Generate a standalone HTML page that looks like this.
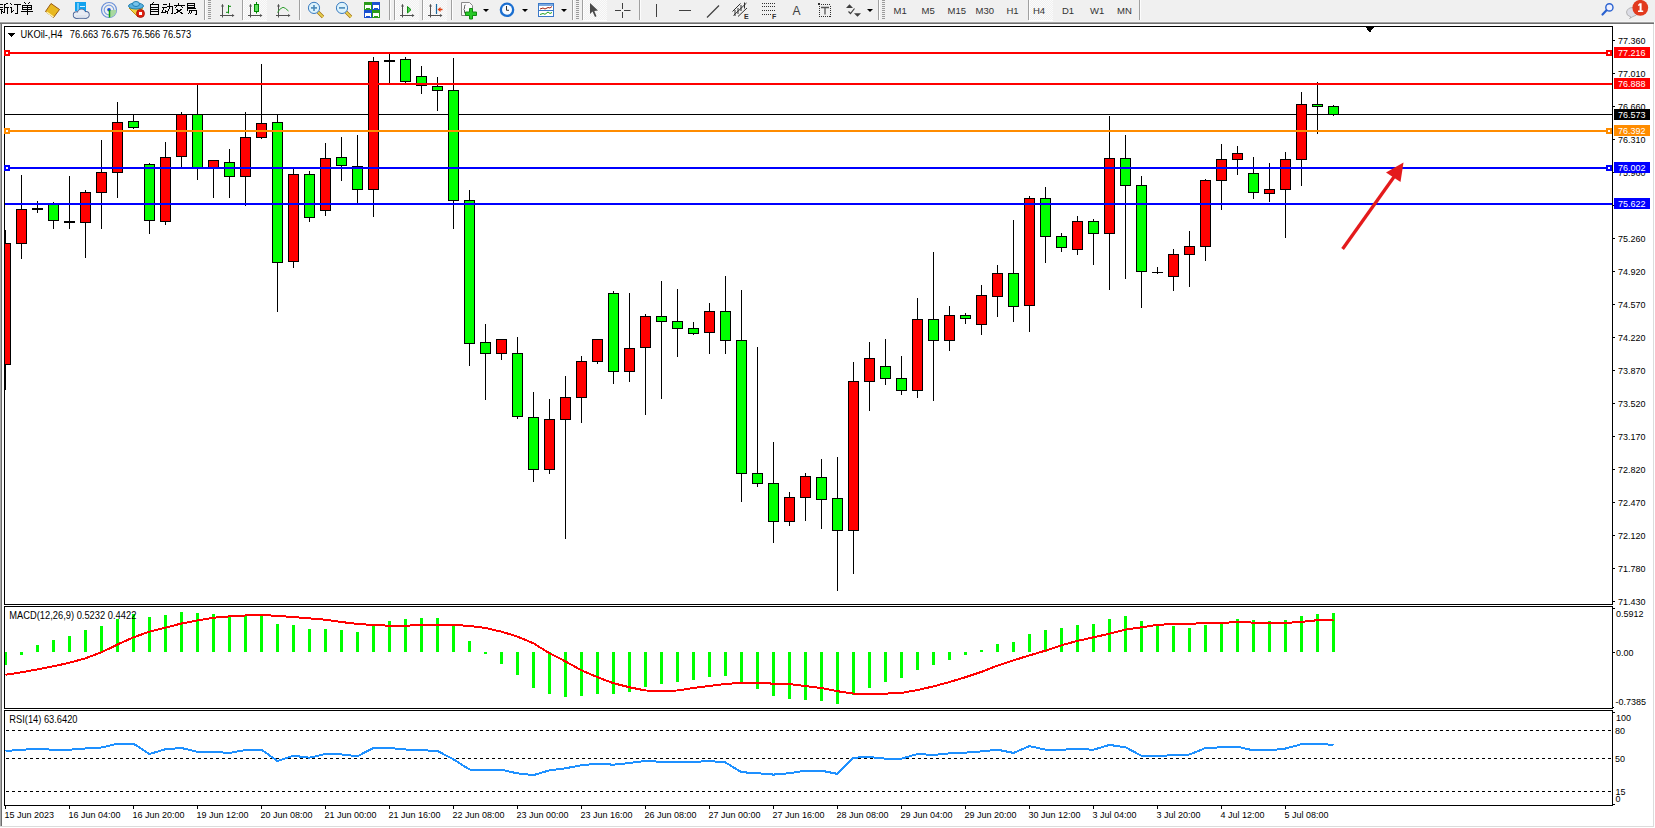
<!DOCTYPE html>
<html><head><meta charset="utf-8"><style>
html,body{margin:0;padding:0;background:#fff;width:1655px;height:828px;overflow:hidden}
svg{display:block;font-family:"Liberation Sans",sans-serif;font-size:9px}
</style></head><body>
<svg width="1655" height="828" viewBox="0 0 1655 828" shape-rendering="crispEdges">
<defs><pattern id="dith" width="2" height="2" patternUnits="userSpaceOnUse"><rect width="2" height="2" fill="#f0f0f0"/><rect width="1" height="1" fill="#fbfbfb"/><rect x="1" y="1" width="1" height="1" fill="#fbfbfb"/></pattern></defs>
<rect x="0" y="0" width="1655" height="828" fill="#fff"/>
<rect x="0" y="22" width="1" height="805" fill="#a9a9a9"/>
<rect x="1" y="24" width="1" height="803" fill="#6d6d6d"/>
<rect x="1653" y="24" width="1" height="803" fill="#dcdcdc"/>
<rect x="0" y="826" width="1654" height="1" fill="#dcdcdc"/>
<rect x="0" y="0" width="1655" height="22" fill="#f0f0f0"/>
<rect x="0" y="21" width="1654" height="1" fill="#f5f5f5"/>
<rect x="0" y="22" width="1654" height="1" fill="#a3a3a3"/>
<rect x="0" y="23" width="1654" height="1" fill="#6f6f6f"/>
<rect x="243" y="0" width="24" height="20" fill="url(#dith)"/>
<rect x="243" y="20" width="24" height="1" fill="#fff"/>
<rect x="395" y="0" width="24" height="20" fill="url(#dith)"/>
<rect x="395" y="20" width="24" height="1" fill="#fff"/>
<rect x="423" y="0" width="24" height="20" fill="url(#dith)"/>
<rect x="423" y="20" width="24" height="1" fill="#fff"/>
<rect x="583" y="0" width="24" height="20" fill="url(#dith)"/>
<rect x="583" y="20" width="24" height="1" fill="#fff"/>
<rect x="1029" y="0" width="24" height="20" fill="url(#dith)"/>
<rect x="1029" y="20" width="24" height="1" fill="#fff"/>
<rect x="204" y="0" width="1" height="20" fill="#a0a0a0"/>
<rect x="205" y="0" width="1" height="20" fill="#fdfdfd"/>
<rect x="242" y="0" width="1" height="20" fill="#a0a0a0"/>
<rect x="243" y="0" width="1" height="20" fill="#fdfdfd"/>
<rect x="299" y="0" width="1" height="20" fill="#a0a0a0"/>
<rect x="300" y="0" width="1" height="20" fill="#fdfdfd"/>
<rect x="389" y="0" width="1" height="20" fill="#a0a0a0"/>
<rect x="390" y="0" width="1" height="20" fill="#fdfdfd"/>
<rect x="394" y="0" width="1" height="20" fill="#a0a0a0"/>
<rect x="395" y="0" width="1" height="20" fill="#fdfdfd"/>
<rect x="422" y="0" width="1" height="20" fill="#a0a0a0"/>
<rect x="423" y="0" width="1" height="20" fill="#fdfdfd"/>
<rect x="451" y="0" width="1" height="20" fill="#a0a0a0"/>
<rect x="452" y="0" width="1" height="20" fill="#fdfdfd"/>
<rect x="572" y="0" width="1" height="20" fill="#a0a0a0"/>
<rect x="573" y="0" width="1" height="20" fill="#fdfdfd"/>
<rect x="582" y="0" width="1" height="20" fill="#a0a0a0"/>
<rect x="583" y="0" width="1" height="20" fill="#fdfdfd"/>
<rect x="639" y="0" width="1" height="20" fill="#a0a0a0"/>
<rect x="640" y="0" width="1" height="20" fill="#fdfdfd"/>
<rect x="878" y="0" width="1" height="20" fill="#a0a0a0"/>
<rect x="879" y="0" width="1" height="20" fill="#fdfdfd"/>
<rect x="1028" y="0" width="1" height="20" fill="#a0a0a0"/>
<rect x="1029" y="0" width="1" height="20" fill="#fdfdfd"/>
<rect x="1139" y="0" width="1" height="20" fill="#a0a0a0"/>
<rect x="1140" y="0" width="1" height="20" fill="#fdfdfd"/>
<rect x="208" y="0" width="3" height="1" fill="#9a9a9a"/>
<rect x="208" y="2" width="3" height="1" fill="#9a9a9a"/>
<rect x="208" y="4" width="3" height="1" fill="#9a9a9a"/>
<rect x="208" y="6" width="3" height="1" fill="#9a9a9a"/>
<rect x="208" y="8" width="3" height="1" fill="#9a9a9a"/>
<rect x="208" y="10" width="3" height="1" fill="#9a9a9a"/>
<rect x="208" y="12" width="3" height="1" fill="#9a9a9a"/>
<rect x="208" y="14" width="3" height="1" fill="#9a9a9a"/>
<rect x="208" y="16" width="3" height="1" fill="#9a9a9a"/>
<rect x="208" y="18" width="3" height="1" fill="#9a9a9a"/>
<rect x="576" y="0" width="3" height="1" fill="#9a9a9a"/>
<rect x="576" y="2" width="3" height="1" fill="#9a9a9a"/>
<rect x="576" y="4" width="3" height="1" fill="#9a9a9a"/>
<rect x="576" y="6" width="3" height="1" fill="#9a9a9a"/>
<rect x="576" y="8" width="3" height="1" fill="#9a9a9a"/>
<rect x="576" y="10" width="3" height="1" fill="#9a9a9a"/>
<rect x="576" y="12" width="3" height="1" fill="#9a9a9a"/>
<rect x="576" y="14" width="3" height="1" fill="#9a9a9a"/>
<rect x="576" y="16" width="3" height="1" fill="#9a9a9a"/>
<rect x="576" y="18" width="3" height="1" fill="#9a9a9a"/>
<rect x="882" y="0" width="3" height="1" fill="#9a9a9a"/>
<rect x="882" y="2" width="3" height="1" fill="#9a9a9a"/>
<rect x="882" y="4" width="3" height="1" fill="#9a9a9a"/>
<rect x="882" y="6" width="3" height="1" fill="#9a9a9a"/>
<rect x="882" y="8" width="3" height="1" fill="#9a9a9a"/>
<rect x="882" y="10" width="3" height="1" fill="#9a9a9a"/>
<rect x="882" y="12" width="3" height="1" fill="#9a9a9a"/>
<rect x="882" y="14" width="3" height="1" fill="#9a9a9a"/>
<rect x="882" y="16" width="3" height="1" fill="#9a9a9a"/>
<rect x="882" y="18" width="3" height="1" fill="#9a9a9a"/>
<g shape-rendering="auto">
<g stroke="#000" stroke-width="1" fill="none" shape-rendering="crispEdges">
<path d="M0 4.5h2.5 M0 7.5h3 M0 9.5h3 M1.5 9.5v4.5 M2.5 11.5l1 1.5 M7.5 3.2l-3 1.3 M4.5 4.5v7.5l-1 1.5 M4.5 7.5h4 M7.5 7.5v6.5"/>
<path d="M10.5 3.5l1.2 1.2 M10 7.5h1.5v5l2-2 M13.5 4.5h7.5 M17.5 4.5v9h-3"/>
<path d="M24.5 2.5l1 1.5 M29.5 2.5l-1 1.5 M22.5 5.5h9v4h-9z M22.5 7.5h9 M27 5.5v9 M21 11.5h12"/>
<path d="M153.5 2.5l-1 1.5 M150.5 4.5h8v9.5h-8z M150.5 7h8 M150.5 9.5h8 M150.5 11.8h8"/>
<path d="M162.5 4.5h4 M161.5 7.5h5.5 M164 7.5l-2 5h4 M165.5 10.5l1 2 M167 6.5h5v7h-1.5 M169.5 3v4.5l-2.5 6"/>
<path d="M178.5 2.5v2 M173.5 5.5h11 M176.5 6.5l-2 2 M181.5 6.5l2 2 M176 9l7 5 M182 9l-7.5 5"/>
<path d="M187.5 3.5h7v4h-7z M187.5 5.5h7 M186.5 8.5h9.5 M188.5 8.5l-2 3 M189 10.5h7v3.5h-1.5 M190.5 10.5l-2 3.5 M192.5 10.5l-2 3.5"/>
</g>
<path d="M51 3.5 L59.5 9.5 L53.5 17.5 L45.5 11.5 Z" fill="#e8b820" stroke="#9a5a10" stroke-width="1"/>
<path d="M46.5 12 L53.5 17" stroke="#fff3b0" stroke-width="1.5"/>
<rect x="75" y="2" width="11" height="9" fill="#12a2ee"/>
<path d="M78 3v8 M80 6.5h5" stroke="#d0f0ff" stroke-width="1"/>
<circle cx="76.5" cy="15" r="3.6999999999999997" fill="#4a6496"/>
<circle cx="81.5" cy="13.2" r="4.5" fill="#4a6496"/>
<circle cx="86" cy="14.8" r="3.6999999999999997" fill="#4a6496"/>
<rect x="75" y="14.5" width="12.5" height="4.3" rx="1.5" fill="#4a6496"/>
<circle cx="76.5" cy="15" r="2.8" fill="#e8ecf4"/>
<circle cx="81.5" cy="13.2" r="3.6" fill="#e8ecf4"/>
<circle cx="86" cy="14.8" r="2.8" fill="#e8ecf4"/>
<rect x="76" y="15" width="10.5" height="2.9" fill="#dfe4ee"/>
<circle cx="109" cy="10" r="7.5" fill="none" stroke="#6a90d8" stroke-width="1.2"/>
<circle cx="109" cy="10" r="4.8" fill="none" stroke="#7aa0e0" stroke-width="1.2"/>
<path d="M109 10 L109 17.5 A7.5 7.5 0 0 0 116.5 10 Z" fill="#a8d8a0"/>
<circle cx="109" cy="9.8" r="1.8" fill="#2050d0"/>
<path d="M109.5 10v7.5" stroke="#10a010" stroke-width="1.5"/>
<path d="M129 8 L142.5 8 L138 17 Z" fill="#f0d040" stroke="#c09010" stroke-width="1"/>
<ellipse cx="136" cy="6" rx="7.5" ry="3" fill="#58b0e0" stroke="#2080b0" stroke-width="1"/>
<ellipse cx="136" cy="4" rx="3.5" ry="2.5" fill="#78c4ec" stroke="#2080b0" stroke-width="1"/>
<circle cx="140.5" cy="13.5" r="4" fill="#e02010" stroke="#a01008" stroke-width="0.8"/>
<rect x="139" y="12" width="3" height="3" fill="#fff"/>
<path d="M222.5 4.5v13 M220 15.5h13.5" stroke="#505050" stroke-width="1" fill="none"/><path d="M221 6.5l1.5-2.5 1.5 2.5z M232 14l2.5 1.5-2.5 1.5z" fill="#505050"/>
<path d="M228.5 5v8.5 M228.5 6.3h2.5 M226 12.3h2.5" stroke="#0a8a0a" stroke-width="1" fill="none"/>
<path d="M250.5 4.5v13 M248 15.5h13.5" stroke="#505050" stroke-width="1" fill="none"/><path d="M249 6.5l1.5-2.5 1.5 2.5z M260 14l2.5 1.5-2.5 1.5z" fill="#505050"/>
<path d="M256.5 2v11.5" stroke="#008800" stroke-width="1"/>
<rect x="254.5" y="4.5" width="4" height="7" fill="#60e060" stroke="#008800" stroke-width="1"/>
<path d="M278.5 4.5v13 M276 15.5h13.5" stroke="#505050" stroke-width="1" fill="none"/><path d="M277 6.5l1.5-2.5 1.5 2.5z M288 14l2.5 1.5-2.5 1.5z" fill="#505050"/>
<path d="M277.5 12.5 Q280 8 283 7.3 Q285 7.5 288.5 11" stroke="#30a030" stroke-width="1" fill="none"/>
<path d="M318 12l5 5" stroke="#a07010" stroke-width="3.2"/>
<path d="M318 12l5 5" stroke="#e8d050" stroke-width="1.8"/>
<circle cx="314" cy="7.9" r="5.6" fill="#dcf2fc" stroke="#3a7cc0" stroke-width="1"/>
<path d="M311 7.9h6" stroke="#4a88b8" stroke-width="1.6"/>
<path d="M314 4.9v6" stroke="#4a88b8" stroke-width="1.6"/>
<path d="M346 12l5 5" stroke="#a07010" stroke-width="3.2"/>
<path d="M346 12l5 5" stroke="#e8d050" stroke-width="1.8"/>
<circle cx="342" cy="7.9" r="5.6" fill="#dcf2fc" stroke="#3a7cc0" stroke-width="1"/>
<path d="M339 7.9h6" stroke="#4a88b8" stroke-width="1.6"/>
<rect x="364" y="2" width="8" height="8" fill="#2a9a1a"/>
<rect x="365" y="5" width="6" height="3" fill="#fff"/>
<rect x="365" y="8" width="1" height="1" fill="#fff"/><rect x="370" y="8" width="1" height="1" fill="#fff"/>
<rect x="372" y="2" width="8" height="8" fill="#1a50d0"/>
<rect x="373" y="5" width="6" height="3" fill="#fff"/>
<rect x="373" y="8" width="1" height="1" fill="#fff"/><rect x="378" y="8" width="1" height="1" fill="#fff"/>
<rect x="364" y="10" width="8" height="8" fill="#1a50d0"/>
<rect x="365" y="13" width="6" height="3" fill="#fff"/>
<rect x="365" y="16" width="1" height="1" fill="#fff"/><rect x="370" y="16" width="1" height="1" fill="#fff"/>
<rect x="372" y="10" width="8" height="8" fill="#2a9a1a"/>
<rect x="373" y="13" width="6" height="3" fill="#fff"/>
<rect x="373" y="16" width="1" height="1" fill="#fff"/><rect x="378" y="16" width="1" height="1" fill="#fff"/>
<path d="M402.5 4.5v13 M400 15.5h13.5" stroke="#505050" stroke-width="1" fill="none"/><path d="M401 6.5l1.5-2.5 1.5 2.5z M412 14l2.5 1.5-2.5 1.5z" fill="#505050"/>
<path d="M407.5 6.5v6.5l3.5-3.3z" fill="#50d050" stroke="#109010" stroke-width="1"/>
<path d="M430.5 4.5v13 M428 15.5h13.5" stroke="#505050" stroke-width="1" fill="none"/><path d="M429 6.5l1.5-2.5 1.5 2.5z M440 14l2.5 1.5-2.5 1.5z" fill="#505050"/>
<path d="M436.5 4v10" stroke="#1a6aa0" stroke-width="1.2"/>
<path d="M437.5 9.5l3-2.5v1.8h2v1.4h-2v1.8z" fill="#e04010"/>
<path d="M461.5 2.5h8l3 3v10h-11z" fill="#fafafa" stroke="#888" stroke-width="1"/>
<path d="M465.5 5q-1 0-1 1.5v2l-0.8 0.8 0.8 0.8v2q0 1.5 1 1.5" stroke="#333" stroke-width="0.8" fill="none"/>
<path d="M469.5 8.5h3v3.5h4v3.5h-4v3.5h-3v-3.5h-4v-3.5h4z" fill="#28c828" stroke="#108a10" stroke-width="1"/>
<path d="M483 9h6l-3 3z" fill="#000"/>
<path d="M522 9h6l-3 3z" fill="#000"/>
<path d="M561 9h6l-3 3z" fill="#000"/>
<path d="M867 9h6l-3 3z" fill="#000"/>
<circle cx="507" cy="9.8" r="7.3" fill="#1a6ed0"/>
<circle cx="507" cy="9.8" r="5" fill="#f8fbff"/>
<path d="M506.5 6v4.3h2.5" stroke="#333" stroke-width="1" fill="none"/>
<rect x="538.5" y="3.5" width="15" height="13" fill="#fff" stroke="#3a78c8" stroke-width="1"/>
<rect x="539" y="4" width="14" height="2" fill="#7aaae0"/>
<path d="M539 10.5h14" stroke="#3a78c8" stroke-width="1"/>
<path d="M540 9l3-1 2 1 3-1.5 2 0.5 2-1.5" stroke="#a02010" stroke-width="1" fill="none"/>
<path d="M540 14.5l3-1 2 0.8 3-2.3 2 1.5 2-1" stroke="#20a020" stroke-width="1" fill="none"/>
<path d="M590 3 L590 14 L592.5 11.5 L595 17 L596.5 16.3 L594.3 11 L598 10.5 Z" fill="#4a4a4a"/>
<path d="M622.5 3v6 M622.5 12v6 M615 10.5h6 M624 10.5h6.5" stroke="#404040" stroke-width="1"/>
<rect x="656" y="4" width="1" height="13" fill="#404040"/>
<rect x="679" y="10" width="12" height="1" fill="#404040"/>
<path d="M707 17.5 L719 5.5" stroke="#404040" stroke-width="1.2" shape-rendering="auto"/>
<g stroke="#303030" stroke-width="1" shape-rendering="auto" fill="none">
<path d="M732.5 11.5 L740.5 3.5 M733.5 15.5 L746.5 3 M738 16.5 L747 8"/>
<path d="M735 10v6 M738 8v6 M741 5v6 M744.5 2.5v6"/>
</g>
<text x="744" y="19" font-size="7" font-weight="bold" fill="#303030">E</text>
<rect x="762" y="3" width="1" height="1" fill="#303030"/>
<rect x="764" y="3" width="1" height="1" fill="#303030"/>
<rect x="766" y="3" width="1" height="1" fill="#303030"/>
<rect x="768" y="3" width="1" height="1" fill="#303030"/>
<rect x="770" y="3" width="1" height="1" fill="#303030"/>
<rect x="772" y="3" width="1" height="1" fill="#303030"/>
<rect x="774" y="3" width="1" height="1" fill="#303030"/>
<rect x="762" y="6" width="1" height="1" fill="#303030"/>
<rect x="764" y="6" width="1" height="1" fill="#303030"/>
<rect x="766" y="6" width="1" height="1" fill="#303030"/>
<rect x="768" y="6" width="1" height="1" fill="#303030"/>
<rect x="770" y="6" width="1" height="1" fill="#303030"/>
<rect x="772" y="6" width="1" height="1" fill="#303030"/>
<rect x="774" y="6" width="1" height="1" fill="#303030"/>
<rect x="762" y="10" width="1" height="1" fill="#303030"/>
<rect x="764" y="10" width="1" height="1" fill="#303030"/>
<rect x="766" y="10" width="1" height="1" fill="#303030"/>
<rect x="768" y="10" width="1" height="1" fill="#303030"/>
<rect x="770" y="10" width="1" height="1" fill="#303030"/>
<rect x="772" y="10" width="1" height="1" fill="#303030"/>
<rect x="774" y="10" width="1" height="1" fill="#303030"/>
<rect x="762" y="14" width="1" height="1" fill="#303030"/>
<rect x="764" y="14" width="1" height="1" fill="#303030"/>
<rect x="766" y="14" width="1" height="1" fill="#303030"/>
<rect x="768" y="14" width="1" height="1" fill="#303030"/>
<rect x="770" y="14" width="1" height="1" fill="#303030"/>
<text x="772" y="19" font-size="7" font-weight="bold" fill="#303030">F</text>
<text x="792.5" y="15" font-size="12" fill="#404040">A</text>
<rect x="819" y="4" width="1" height="1" fill="#303030"/>
<rect x="819" y="16" width="1" height="1" fill="#303030"/>
<rect x="821" y="4" width="1" height="1" fill="#303030"/>
<rect x="821" y="16" width="1" height="1" fill="#303030"/>
<rect x="823" y="4" width="1" height="1" fill="#303030"/>
<rect x="823" y="16" width="1" height="1" fill="#303030"/>
<rect x="825" y="4" width="1" height="1" fill="#303030"/>
<rect x="825" y="16" width="1" height="1" fill="#303030"/>
<rect x="827" y="4" width="1" height="1" fill="#303030"/>
<rect x="827" y="16" width="1" height="1" fill="#303030"/>
<rect x="829" y="4" width="1" height="1" fill="#303030"/>
<rect x="829" y="16" width="1" height="1" fill="#303030"/>
<rect x="819" y="6" width="1" height="1" fill="#303030"/>
<rect x="830" y="6" width="1" height="1" fill="#303030"/>
<rect x="819" y="8" width="1" height="1" fill="#303030"/>
<rect x="830" y="8" width="1" height="1" fill="#303030"/>
<rect x="819" y="10" width="1" height="1" fill="#303030"/>
<rect x="830" y="10" width="1" height="1" fill="#303030"/>
<rect x="819" y="12" width="1" height="1" fill="#303030"/>
<rect x="830" y="12" width="1" height="1" fill="#303030"/>
<rect x="819" y="14" width="1" height="1" fill="#303030"/>
<rect x="830" y="14" width="1" height="1" fill="#303030"/>
<rect x="819" y="16" width="1" height="1" fill="#303030"/>
<rect x="830" y="16" width="1" height="1" fill="#303030"/>
<rect x="818" y="3" width="2" height="2" fill="#303030"/>
<path d="M821 7.5h8 M825 7.5v7" stroke="#555" stroke-width="1.3" fill="none"/>
<path d="M846 8 l3.5-3.8 3.5 3.8z M854 13.3 l3.5 3.5 3.5-3.5z" fill="#404040"/>
<path d="M848.5 11.5 l2 2 4-5" stroke="#404040" stroke-width="1.2" fill="none" shape-rendering="auto"/>
<text x="893.5" y="14" font-size="9.5" fill="#333">M1</text>
<text x="921.5" y="14" font-size="9.5" fill="#333">M5</text>
<text x="947.5" y="14" font-size="9.5" fill="#333">M15</text>
<text x="975.5" y="14" font-size="9.5" fill="#333">M30</text>
<text x="1006.5" y="14" font-size="9.5" fill="#333">H1</text>
<text x="1033" y="14" font-size="9.5" fill="#333">H4</text>
<text x="1062" y="14" font-size="9.5" fill="#333">D1</text>
<text x="1090" y="14" font-size="9.5" fill="#333">W1</text>
<text x="1117" y="14" font-size="9.5" fill="#333">MN</text>
<g shape-rendering="auto">
<circle cx="1609.4" cy="7.4" r="3.6" fill="#eef0ff" stroke="#2a62d0" stroke-width="1.4"/>
<path d="M1606.5 10.3 L1602.5 14.5" stroke="#2a62d0" stroke-width="2.2" stroke-linecap="round"/>
<path d="M1631 17 Q1626 15.5 1626.5 12 Q1627.5 7.5 1633 7.5 Q1638 8 1637.5 12.5 Q1637 16 1633 16.5 L1629.5 18.5 Z" fill="#dcdde6" stroke="#a8a8a8" stroke-width="0.8"/>
<circle cx="1640.3" cy="7.8" r="7.9" fill="#e23a1e"/>
<path d="M1639.6 3.2 L1641.6 3.2 L1641.6 10.6 L1643.2 10.6 L1643.2 11.9 L1638 11.9 L1638 10.6 L1639.6 10.6 L1639.6 5.4 L1638.1 6 L1638.1 4.7 Z" fill="#fff"/>
</g>
</g>
<rect x="4.5" y="26.5" width="1608" height="578" fill="#fff" stroke="#000"/>
<rect x="4.5" y="606.5" width="1608" height="102" fill="#fff" stroke="#000"/>
<rect x="4.5" y="710.5" width="1608" height="95" fill="#fff" stroke="#000"/>
<clipPath id="cm"><rect x="5" y="27" width="1607" height="577"/></clipPath>
<clipPath id="cmacd"><rect x="5" y="607" width="1607" height="101"/></clipPath>
<clipPath id="crsi"><rect x="5" y="711" width="1607" height="94"/></clipPath>
<g clip-path="url(#cm)">
<rect x="5" y="114" width="1607" height="1" fill="#000"/>
<rect x="5" y="230" width="1" height="160" fill="#000"/>
<rect x="0.5" y="243.5" width="10" height="121" fill="#ff0000" stroke="#000"/>
<rect x="21" y="175" width="1" height="84" fill="#000"/>
<rect x="16.5" y="209.5" width="10" height="34" fill="#ff0000" stroke="#000"/>
<rect x="37" y="201" width="1" height="12" fill="#000"/>
<rect x="32" y="208" width="11" height="2" fill="#000"/>
<rect x="53" y="202" width="1" height="27" fill="#000"/>
<rect x="48.5" y="204.5" width="10" height="16" fill="#00ff00" stroke="#000"/>
<rect x="69" y="176" width="1" height="53" fill="#000"/>
<rect x="64" y="221" width="11" height="2" fill="#000"/>
<rect x="85" y="190" width="1" height="68" fill="#000"/>
<rect x="80.5" y="192.5" width="10" height="30" fill="#ff0000" stroke="#000"/>
<rect x="101" y="140" width="1" height="89" fill="#000"/>
<rect x="96.5" y="172.5" width="10" height="20" fill="#ff0000" stroke="#000"/>
<rect x="117" y="102" width="1" height="96" fill="#000"/>
<rect x="112.5" y="122.5" width="10" height="50" fill="#ff0000" stroke="#000"/>
<rect x="133" y="114" width="1" height="15" fill="#000"/>
<rect x="128.5" y="121.5" width="10" height="6" fill="#00ff00" stroke="#000"/>
<rect x="149" y="163" width="1" height="71" fill="#000"/>
<rect x="144.5" y="164.5" width="10" height="56" fill="#00ff00" stroke="#000"/>
<rect x="165" y="142" width="1" height="83" fill="#000"/>
<rect x="160.5" y="157.5" width="10" height="64" fill="#ff0000" stroke="#000"/>
<rect x="181" y="112" width="1" height="55" fill="#000"/>
<rect x="176.5" y="114.5" width="10" height="42" fill="#ff0000" stroke="#000"/>
<rect x="197" y="85" width="1" height="95" fill="#000"/>
<rect x="192.5" y="114.5" width="10" height="53" fill="#00ff00" stroke="#000"/>
<rect x="213" y="160" width="1" height="38" fill="#000"/>
<rect x="208.5" y="160.5" width="10" height="7" fill="#ff0000" stroke="#000"/>
<rect x="229" y="149" width="1" height="49" fill="#000"/>
<rect x="224.5" y="162.5" width="10" height="14" fill="#00ff00" stroke="#000"/>
<rect x="245" y="112" width="1" height="94" fill="#000"/>
<rect x="240.5" y="137.5" width="10" height="39" fill="#ff0000" stroke="#000"/>
<rect x="261" y="64" width="1" height="75" fill="#000"/>
<rect x="256.5" y="123.5" width="10" height="14" fill="#ff0000" stroke="#000"/>
<rect x="277" y="114" width="1" height="198" fill="#000"/>
<rect x="272.5" y="122.5" width="10" height="140" fill="#00ff00" stroke="#000"/>
<rect x="293" y="169" width="1" height="99" fill="#000"/>
<rect x="288.5" y="174.5" width="10" height="87" fill="#ff0000" stroke="#000"/>
<rect x="309" y="171" width="1" height="51" fill="#000"/>
<rect x="304.5" y="174.5" width="10" height="43" fill="#00ff00" stroke="#000"/>
<rect x="325" y="143" width="1" height="73" fill="#000"/>
<rect x="320.5" y="158.5" width="10" height="52" fill="#ff0000" stroke="#000"/>
<rect x="341" y="137" width="1" height="44" fill="#000"/>
<rect x="336.5" y="157.5" width="10" height="8" fill="#00ff00" stroke="#000"/>
<rect x="357" y="135" width="1" height="69" fill="#000"/>
<rect x="352.5" y="166.5" width="10" height="23" fill="#00ff00" stroke="#000"/>
<rect x="373" y="57" width="1" height="160" fill="#000"/>
<rect x="368.5" y="61.5" width="10" height="128" fill="#ff0000" stroke="#000"/>
<rect x="389" y="54" width="1" height="30" fill="#000"/>
<rect x="384" y="60" width="11" height="2" fill="#000"/>
<rect x="405" y="57" width="1" height="26" fill="#000"/>
<rect x="400.5" y="59.5" width="10" height="22" fill="#00ff00" stroke="#000"/>
<rect x="421" y="66" width="1" height="28" fill="#000"/>
<rect x="416.5" y="76.5" width="10" height="9" fill="#00ff00" stroke="#000"/>
<rect x="437" y="77" width="1" height="34" fill="#000"/>
<rect x="432.5" y="86.5" width="10" height="4" fill="#00ff00" stroke="#000"/>
<rect x="453" y="58" width="1" height="171" fill="#000"/>
<rect x="448.5" y="90.5" width="10" height="110" fill="#00ff00" stroke="#000"/>
<rect x="469" y="190" width="1" height="176" fill="#000"/>
<rect x="464.5" y="200.5" width="10" height="143" fill="#00ff00" stroke="#000"/>
<rect x="485" y="324" width="1" height="76" fill="#000"/>
<rect x="480.5" y="342.5" width="10" height="11" fill="#00ff00" stroke="#000"/>
<rect x="501" y="339" width="1" height="21" fill="#000"/>
<rect x="496.5" y="339.5" width="10" height="14" fill="#ff0000" stroke="#000"/>
<rect x="517" y="337" width="1" height="82" fill="#000"/>
<rect x="512.5" y="353.5" width="10" height="63" fill="#00ff00" stroke="#000"/>
<rect x="533" y="392" width="1" height="90" fill="#000"/>
<rect x="528.5" y="417.5" width="10" height="52" fill="#00ff00" stroke="#000"/>
<rect x="549" y="399" width="1" height="75" fill="#000"/>
<rect x="544.5" y="419.5" width="10" height="50" fill="#ff0000" stroke="#000"/>
<rect x="565" y="376" width="1" height="163" fill="#000"/>
<rect x="560.5" y="397.5" width="10" height="22" fill="#ff0000" stroke="#000"/>
<rect x="581" y="356" width="1" height="67" fill="#000"/>
<rect x="576.5" y="361.5" width="10" height="36" fill="#ff0000" stroke="#000"/>
<rect x="597" y="339" width="1" height="25" fill="#000"/>
<rect x="592.5" y="339.5" width="10" height="22" fill="#ff0000" stroke="#000"/>
<rect x="613" y="291" width="1" height="93" fill="#000"/>
<rect x="608.5" y="293.5" width="10" height="78" fill="#00ff00" stroke="#000"/>
<rect x="629" y="293" width="1" height="89" fill="#000"/>
<rect x="624.5" y="348.5" width="10" height="23" fill="#ff0000" stroke="#000"/>
<rect x="645" y="314" width="1" height="101" fill="#000"/>
<rect x="640.5" y="316.5" width="10" height="31" fill="#ff0000" stroke="#000"/>
<rect x="661" y="281" width="1" height="118" fill="#000"/>
<rect x="656.5" y="316.5" width="10" height="5" fill="#00ff00" stroke="#000"/>
<rect x="677" y="289" width="1" height="68" fill="#000"/>
<rect x="672.5" y="321.5" width="10" height="7" fill="#00ff00" stroke="#000"/>
<rect x="693" y="322" width="1" height="13" fill="#000"/>
<rect x="688.5" y="328.5" width="10" height="5" fill="#00ff00" stroke="#000"/>
<rect x="709" y="303" width="1" height="51" fill="#000"/>
<rect x="704.5" y="311.5" width="10" height="21" fill="#ff0000" stroke="#000"/>
<rect x="725" y="276" width="1" height="78" fill="#000"/>
<rect x="720.5" y="311.5" width="10" height="29" fill="#00ff00" stroke="#000"/>
<rect x="741" y="290" width="1" height="212" fill="#000"/>
<rect x="736.5" y="340.5" width="10" height="133" fill="#00ff00" stroke="#000"/>
<rect x="757" y="347" width="1" height="140" fill="#000"/>
<rect x="752.5" y="473.5" width="10" height="10" fill="#00ff00" stroke="#000"/>
<rect x="773" y="442" width="1" height="101" fill="#000"/>
<rect x="768.5" y="483.5" width="10" height="38" fill="#00ff00" stroke="#000"/>
<rect x="789" y="492" width="1" height="34" fill="#000"/>
<rect x="784.5" y="497.5" width="10" height="24" fill="#ff0000" stroke="#000"/>
<rect x="805" y="473" width="1" height="48" fill="#000"/>
<rect x="800.5" y="476.5" width="10" height="21" fill="#ff0000" stroke="#000"/>
<rect x="821" y="459" width="1" height="70" fill="#000"/>
<rect x="816.5" y="477.5" width="10" height="22" fill="#00ff00" stroke="#000"/>
<rect x="837" y="457" width="1" height="134" fill="#000"/>
<rect x="832.5" y="498.5" width="10" height="32" fill="#00ff00" stroke="#000"/>
<rect x="853" y="362" width="1" height="212" fill="#000"/>
<rect x="848.5" y="381.5" width="10" height="149" fill="#ff0000" stroke="#000"/>
<rect x="869" y="342" width="1" height="69" fill="#000"/>
<rect x="864.5" y="358.5" width="10" height="23" fill="#ff0000" stroke="#000"/>
<rect x="885" y="339" width="1" height="46" fill="#000"/>
<rect x="880.5" y="366.5" width="10" height="12" fill="#00ff00" stroke="#000"/>
<rect x="901" y="356" width="1" height="39" fill="#000"/>
<rect x="896.5" y="378.5" width="10" height="12" fill="#00ff00" stroke="#000"/>
<rect x="917" y="298" width="1" height="100" fill="#000"/>
<rect x="912.5" y="319.5" width="10" height="71" fill="#ff0000" stroke="#000"/>
<rect x="933" y="252" width="1" height="149" fill="#000"/>
<rect x="928.5" y="319.5" width="10" height="21" fill="#00ff00" stroke="#000"/>
<rect x="949" y="306" width="1" height="45" fill="#000"/>
<rect x="944.5" y="315.5" width="10" height="25" fill="#ff0000" stroke="#000"/>
<rect x="965" y="313" width="1" height="11" fill="#000"/>
<rect x="960.5" y="315.5" width="10" height="3" fill="#00ff00" stroke="#000"/>
<rect x="981" y="285" width="1" height="50" fill="#000"/>
<rect x="976.5" y="295.5" width="10" height="29" fill="#ff0000" stroke="#000"/>
<rect x="997" y="265" width="1" height="52" fill="#000"/>
<rect x="992.5" y="273.5" width="10" height="23" fill="#ff0000" stroke="#000"/>
<rect x="1013" y="220" width="1" height="102" fill="#000"/>
<rect x="1008.5" y="273.5" width="10" height="33" fill="#00ff00" stroke="#000"/>
<rect x="1029" y="196" width="1" height="136" fill="#000"/>
<rect x="1024.5" y="198.5" width="10" height="107" fill="#ff0000" stroke="#000"/>
<rect x="1045" y="187" width="1" height="76" fill="#000"/>
<rect x="1040.5" y="198.5" width="10" height="38" fill="#00ff00" stroke="#000"/>
<rect x="1061" y="233" width="1" height="19" fill="#000"/>
<rect x="1056.5" y="236.5" width="10" height="11" fill="#00ff00" stroke="#000"/>
<rect x="1077" y="216" width="1" height="39" fill="#000"/>
<rect x="1072.5" y="221.5" width="10" height="28" fill="#ff0000" stroke="#000"/>
<rect x="1093" y="219" width="1" height="46" fill="#000"/>
<rect x="1088.5" y="221.5" width="10" height="12" fill="#00ff00" stroke="#000"/>
<rect x="1109" y="116" width="1" height="174" fill="#000"/>
<rect x="1104.5" y="158.5" width="10" height="75" fill="#ff0000" stroke="#000"/>
<rect x="1125" y="135" width="1" height="144" fill="#000"/>
<rect x="1120.5" y="158.5" width="10" height="27" fill="#00ff00" stroke="#000"/>
<rect x="1141" y="176" width="1" height="132" fill="#000"/>
<rect x="1136.5" y="185.5" width="10" height="86" fill="#00ff00" stroke="#000"/>
<rect x="1157" y="267" width="1" height="7" fill="#000"/>
<rect x="1152" y="272" width="11" height="1" fill="#000"/>
<rect x="1173" y="249" width="1" height="42" fill="#000"/>
<rect x="1168.5" y="254.5" width="10" height="22" fill="#ff0000" stroke="#000"/>
<rect x="1189" y="231" width="1" height="56" fill="#000"/>
<rect x="1184.5" y="246.5" width="10" height="8" fill="#ff0000" stroke="#000"/>
<rect x="1205" y="179" width="1" height="82" fill="#000"/>
<rect x="1200.5" y="180.5" width="10" height="66" fill="#ff0000" stroke="#000"/>
<rect x="1221" y="144" width="1" height="66" fill="#000"/>
<rect x="1216.5" y="159.5" width="10" height="21" fill="#ff0000" stroke="#000"/>
<rect x="1237" y="146" width="1" height="29" fill="#000"/>
<rect x="1232.5" y="153.5" width="10" height="6" fill="#ff0000" stroke="#000"/>
<rect x="1253" y="157" width="1" height="42" fill="#000"/>
<rect x="1248.5" y="173.5" width="10" height="19" fill="#00ff00" stroke="#000"/>
<rect x="1269" y="163" width="1" height="39" fill="#000"/>
<rect x="1264.5" y="189.5" width="10" height="4" fill="#ff0000" stroke="#000"/>
<rect x="1285" y="152" width="1" height="86" fill="#000"/>
<rect x="1280.5" y="159.5" width="10" height="30" fill="#ff0000" stroke="#000"/>
<rect x="1301" y="92" width="1" height="94" fill="#000"/>
<rect x="1296.5" y="104.5" width="10" height="55" fill="#ff0000" stroke="#000"/>
<rect x="1317" y="82" width="1" height="52" fill="#000"/>
<rect x="1312.5" y="104.5" width="10" height="2" fill="#00ff00" stroke="#000"/>
<rect x="1333" y="105" width="1" height="11" fill="#000"/>
<rect x="1328.5" y="106.5" width="10" height="8" fill="#00ff00" stroke="#000"/>
<rect x="5" y="52" width="1607" height="2" fill="#ff0000"/>
<rect x="5" y="83" width="1607" height="2" fill="#ff0000"/>
<rect x="5" y="130" width="1607" height="2" fill="#ff8c00"/>
<rect x="5" y="167" width="1607" height="2" fill="#0000ff"/>
<rect x="5" y="203" width="1607" height="2" fill="#0000ff"/>
</g>
<rect x="4" y="50" width="6" height="6" fill="#ff0000"/><rect x="6" y="52" width="2" height="2" fill="#fff"/>
<rect x="1606" y="50" width="6" height="6" fill="#ff0000"/><rect x="1608" y="52" width="2" height="2" fill="#fff"/>
<rect x="4" y="128" width="6" height="6" fill="#ff8c00"/><rect x="6" y="130" width="2" height="2" fill="#fff"/>
<rect x="1606" y="128" width="6" height="6" fill="#ff8c00"/><rect x="1608" y="130" width="2" height="2" fill="#fff"/>
<rect x="4" y="165" width="6" height="6" fill="#0000ff"/><rect x="6" y="167" width="2" height="2" fill="#fff"/>
<rect x="1606" y="165" width="6" height="6" fill="#0000ff"/><rect x="1608" y="167" width="2" height="2" fill="#fff"/>
<path d="M1365 26.5 L1374.5 26.5 L1369.75 32.5 Z" fill="#000"/>
<g shape-rendering="auto"><line x1="1342.6" y1="249" x2="1395" y2="175.5" stroke="#e41a1c" stroke-width="3.3"/>
<path d="M1403.5 162.5 L1386 172.5 L1400.5 182 Z" fill="#e41a1c"/></g>
<g clip-path="url(#cmacd)">
<rect x="4" y="652" width="3" height="13" fill="#00ff00"/>
<rect x="20" y="652" width="3" height="3" fill="#00ff00"/>
<rect x="36" y="645" width="3" height="7" fill="#00ff00"/>
<rect x="52" y="640" width="3" height="12" fill="#00ff00"/>
<rect x="68" y="636" width="3" height="16" fill="#00ff00"/>
<rect x="84" y="630" width="3" height="22" fill="#00ff00"/>
<rect x="100" y="626" width="3" height="26" fill="#00ff00"/>
<rect x="116" y="619" width="3" height="33" fill="#00ff00"/>
<rect x="132" y="614" width="3" height="38" fill="#00ff00"/>
<rect x="148" y="617" width="3" height="35" fill="#00ff00"/>
<rect x="164" y="615" width="3" height="37" fill="#00ff00"/>
<rect x="180" y="612" width="3" height="40" fill="#00ff00"/>
<rect x="196" y="613" width="3" height="39" fill="#00ff00"/>
<rect x="212" y="614" width="3" height="38" fill="#00ff00"/>
<rect x="228" y="617" width="3" height="35" fill="#00ff00"/>
<rect x="244" y="616" width="3" height="36" fill="#00ff00"/>
<rect x="260" y="616" width="3" height="36" fill="#00ff00"/>
<rect x="276" y="624" width="3" height="28" fill="#00ff00"/>
<rect x="292" y="625" width="3" height="27" fill="#00ff00"/>
<rect x="308" y="629" width="3" height="23" fill="#00ff00"/>
<rect x="324" y="629" width="3" height="23" fill="#00ff00"/>
<rect x="340" y="630" width="3" height="22" fill="#00ff00"/>
<rect x="356" y="632" width="3" height="20" fill="#00ff00"/>
<rect x="372" y="626" width="3" height="26" fill="#00ff00"/>
<rect x="388" y="621" width="3" height="31" fill="#00ff00"/>
<rect x="404" y="619" width="3" height="33" fill="#00ff00"/>
<rect x="420" y="618" width="3" height="34" fill="#00ff00"/>
<rect x="436" y="618" width="3" height="34" fill="#00ff00"/>
<rect x="452" y="626" width="3" height="26" fill="#00ff00"/>
<rect x="468" y="641" width="3" height="11" fill="#00ff00"/>
<rect x="484" y="652" width="3" height="2" fill="#00ff00"/>
<rect x="500" y="652" width="3" height="12" fill="#00ff00"/>
<rect x="516" y="652" width="3" height="23" fill="#00ff00"/>
<rect x="532" y="652" width="3" height="36" fill="#00ff00"/>
<rect x="548" y="652" width="3" height="42" fill="#00ff00"/>
<rect x="564" y="652" width="3" height="45" fill="#00ff00"/>
<rect x="580" y="652" width="3" height="44" fill="#00ff00"/>
<rect x="596" y="652" width="3" height="42" fill="#00ff00"/>
<rect x="612" y="652" width="3" height="42" fill="#00ff00"/>
<rect x="628" y="652" width="3" height="40" fill="#00ff00"/>
<rect x="644" y="652" width="3" height="35" fill="#00ff00"/>
<rect x="660" y="652" width="3" height="32" fill="#00ff00"/>
<rect x="676" y="652" width="3" height="30" fill="#00ff00"/>
<rect x="692" y="652" width="3" height="28" fill="#00ff00"/>
<rect x="708" y="652" width="3" height="25" fill="#00ff00"/>
<rect x="724" y="652" width="3" height="24" fill="#00ff00"/>
<rect x="740" y="652" width="3" height="31" fill="#00ff00"/>
<rect x="756" y="652" width="3" height="37" fill="#00ff00"/>
<rect x="772" y="652" width="3" height="44" fill="#00ff00"/>
<rect x="788" y="652" width="3" height="47" fill="#00ff00"/>
<rect x="804" y="652" width="3" height="48" fill="#00ff00"/>
<rect x="820" y="652" width="3" height="49" fill="#00ff00"/>
<rect x="836" y="652" width="3" height="52" fill="#00ff00"/>
<rect x="852" y="652" width="3" height="43" fill="#00ff00"/>
<rect x="868" y="652" width="3" height="36" fill="#00ff00"/>
<rect x="884" y="652" width="3" height="30" fill="#00ff00"/>
<rect x="900" y="652" width="3" height="26" fill="#00ff00"/>
<rect x="916" y="652" width="3" height="18" fill="#00ff00"/>
<rect x="932" y="652" width="3" height="13" fill="#00ff00"/>
<rect x="948" y="652" width="3" height="8" fill="#00ff00"/>
<rect x="964" y="652" width="3" height="3" fill="#00ff00"/>
<rect x="980" y="650" width="3" height="2" fill="#00ff00"/>
<rect x="996" y="644" width="3" height="8" fill="#00ff00"/>
<rect x="1012" y="642" width="3" height="10" fill="#00ff00"/>
<rect x="1028" y="634" width="3" height="18" fill="#00ff00"/>
<rect x="1044" y="630" width="3" height="22" fill="#00ff00"/>
<rect x="1060" y="628" width="3" height="24" fill="#00ff00"/>
<rect x="1076" y="625" width="3" height="27" fill="#00ff00"/>
<rect x="1092" y="624" width="3" height="28" fill="#00ff00"/>
<rect x="1108" y="619" width="3" height="33" fill="#00ff00"/>
<rect x="1124" y="616" width="3" height="36" fill="#00ff00"/>
<rect x="1140" y="621" width="3" height="31" fill="#00ff00"/>
<rect x="1156" y="624" width="3" height="28" fill="#00ff00"/>
<rect x="1172" y="626" width="3" height="26" fill="#00ff00"/>
<rect x="1188" y="628" width="3" height="24" fill="#00ff00"/>
<rect x="1204" y="625" width="3" height="27" fill="#00ff00"/>
<rect x="1220" y="623" width="3" height="29" fill="#00ff00"/>
<rect x="1236" y="619" width="3" height="33" fill="#00ff00"/>
<rect x="1252" y="620" width="3" height="32" fill="#00ff00"/>
<rect x="1268" y="621" width="3" height="31" fill="#00ff00"/>
<rect x="1284" y="620" width="3" height="32" fill="#00ff00"/>
<rect x="1300" y="616" width="3" height="36" fill="#00ff00"/>
<rect x="1316" y="614" width="3" height="38" fill="#00ff00"/>
<rect x="1332" y="613" width="3" height="39" fill="#00ff00"/>
<polyline points="5.5,674.8 21.5,672.3 37.5,669.4 53.5,666.3 69.5,662.7 85.5,658.3 101.5,652.3 117.5,644.5 133.5,637.3 149.5,631.7 165.5,627.6 181.5,623.5 197.5,620.4 213.5,617.7 229.5,616.4 245.5,615.5 261.5,614.8 277.5,616 293.5,617 309.5,618.4 325.5,619.7 341.5,622 357.5,624 373.5,625 389.5,625.7 405.5,625.7 421.5,625 437.5,624.7 453.5,624.7 469.5,626 485.5,628 501.5,631.7 517.5,636.6 533.5,643.3 549.5,653.3 565.5,661.4 581.5,670.4 597.5,677.2 613.5,683.2 629.5,687.3 645.5,690.5 661.5,690.7 677.5,690.5 693.5,688 709.5,685.9 725.5,684 741.5,682.7 757.5,682.7 773.5,683.7 789.5,684 805.5,686.1 821.5,688 837.5,691.2 853.5,693.6 869.5,693.6 885.5,693.6 901.5,692.9 917.5,690 933.5,686.4 949.5,682 965.5,677.2 981.5,671.9 997.5,665.6 1013.5,660.3 1029.5,655.4 1045.5,650.6 1061.5,645.3 1077.5,640.9 1093.5,637.3 1109.5,633.7 1125.5,629.6 1141.5,627.3 1157.5,624.9 1173.5,623.9 1189.5,623.9 1205.5,623 1221.5,623 1237.5,621.9 1253.5,622.6 1269.5,622.9 1285.5,622.9 1301.5,621.9 1317.5,620.2 1333.5,619.8" fill="none" stroke="#ff0000" stroke-width="2"/>
</g>
<g clip-path="url(#crsi)">
<line x1="6" y1="730.5" x2="1612" y2="730.5" stroke="#000" stroke-dasharray="3 3"/>
<line x1="6" y1="758.5" x2="1612" y2="758.5" stroke="#000" stroke-dasharray="3 3"/>
<line x1="6" y1="791.5" x2="1612" y2="791.5" stroke="#000" stroke-dasharray="3 3"/>
<polyline points="5.5,751 21.5,749.7 37.5,749 53.5,749.7 69.5,749.7 85.5,748.5 101.5,747.5 117.5,743.7 133.5,743.7 149.5,754 165.5,749.2 181.5,748 197.5,751.9 213.5,751.9 229.5,752.9 245.5,750 261.5,749.7 277.5,761 293.5,755.8 309.5,757.7 325.5,754 341.5,754.5 357.5,756.2 373.5,748 389.5,748 405.5,749.5 421.5,750.2 437.5,751 453.5,759.4 469.5,769.5 485.5,769.8 501.5,769.8 517.5,773.4 533.5,775.1 549.5,770.3 565.5,768.3 581.5,765.2 597.5,763.7 613.5,764.7 629.5,763 645.5,761 661.5,761.8 677.5,762 693.5,762 709.5,761 725.5,762.5 741.5,772.2 757.5,773.2 773.5,774.6 789.5,773.2 805.5,770.7 821.5,770.7 837.5,773.9 853.5,757.7 869.5,757 885.5,758.7 901.5,758.7 917.5,754 933.5,755 949.5,753.3 965.5,752.6 981.5,751.4 997.5,749.7 1013.5,752.9 1029.5,746.1 1045.5,749.7 1061.5,749.7 1077.5,749 1093.5,749.7 1109.5,744.9 1125.5,747.3 1141.5,755.8 1157.5,755.8 1173.5,755.3 1189.5,754.5 1205.5,748 1221.5,747.3 1237.5,746.8 1253.5,750.4 1269.5,750.4 1285.5,748.5 1301.5,744.2 1317.5,743.7 1333.5,744.9" fill="none" stroke="#1e90ff" stroke-width="2"/>
</g>
<rect x="1613" y="40" width="2" height="1" fill="#000"/>
<text transform="translate(1618 44) scale(1 1.1)">77.360</text>
<rect x="1613" y="73" width="2" height="1" fill="#000"/>
<text transform="translate(1618 77) scale(1 1.1)">77.010</text>
<rect x="1613" y="106" width="2" height="1" fill="#000"/>
<text transform="translate(1618 110) scale(1 1.1)">76.660</text>
<rect x="1613" y="139" width="2" height="1" fill="#000"/>
<text transform="translate(1618 143) scale(1 1.1)">76.310</text>
<rect x="1613" y="172" width="2" height="1" fill="#000"/>
<text transform="translate(1618 176) scale(1 1.1)">75.960</text>
<rect x="1613" y="205" width="2" height="1" fill="#000"/>
<text transform="translate(1618 209) scale(1 1.1)">75.610</text>
<rect x="1613" y="238" width="2" height="1" fill="#000"/>
<text transform="translate(1618 242) scale(1 1.1)">75.260</text>
<rect x="1613" y="271" width="2" height="1" fill="#000"/>
<text transform="translate(1618 275) scale(1 1.1)">74.920</text>
<rect x="1613" y="304" width="2" height="1" fill="#000"/>
<text transform="translate(1618 308) scale(1 1.1)">74.570</text>
<rect x="1613" y="337" width="2" height="1" fill="#000"/>
<text transform="translate(1618 341) scale(1 1.1)">74.220</text>
<rect x="1613" y="370" width="2" height="1" fill="#000"/>
<text transform="translate(1618 374) scale(1 1.1)">73.870</text>
<rect x="1613" y="403" width="2" height="1" fill="#000"/>
<text transform="translate(1618 407) scale(1 1.1)">73.520</text>
<rect x="1613" y="436" width="2" height="1" fill="#000"/>
<text transform="translate(1618 440) scale(1 1.1)">73.170</text>
<rect x="1613" y="469" width="2" height="1" fill="#000"/>
<text transform="translate(1618 473) scale(1 1.1)">72.820</text>
<rect x="1613" y="502" width="2" height="1" fill="#000"/>
<text transform="translate(1618 506) scale(1 1.1)">72.470</text>
<rect x="1613" y="535" width="2" height="1" fill="#000"/>
<text transform="translate(1618 539) scale(1 1.1)">72.120</text>
<rect x="1613" y="568" width="2" height="1" fill="#000"/>
<text transform="translate(1618 572) scale(1 1.1)">71.780</text>
<rect x="1613" y="601" width="2" height="1" fill="#000"/>
<text transform="translate(1618 605) scale(1 1.1)">71.430</text>
<rect x="1614" y="47" width="36" height="11" fill="#ff0000"/>
<text transform="translate(1618 56) scale(1 1.1)" fill="#fff">77.216</text>
<rect x="1614" y="78" width="36" height="11" fill="#ff0000"/>
<text transform="translate(1618 87) scale(1 1.1)" fill="#fff">76.888</text>
<rect x="1614" y="109" width="36" height="11" fill="#000"/>
<text transform="translate(1618 118) scale(1 1.1)" fill="#fff">76.573</text>
<rect x="1614" y="125" width="36" height="11" fill="#ff8c00"/>
<text transform="translate(1618 134) scale(1 1.1)" fill="#fff">76.392</text>
<rect x="1614" y="162" width="36" height="11" fill="#0000ff"/>
<text transform="translate(1618 171) scale(1 1.1)" fill="#fff">76.002</text>
<rect x="1614" y="198" width="36" height="11" fill="#0000ff"/>
<text transform="translate(1618 207) scale(1 1.1)" fill="#fff">75.622</text>
<text transform="translate(1616 617) scale(1 1.1)">0.5912</text>
<rect x="1613" y="652" width="2" height="1" fill="#000"/>
<rect x="1613" y="608" width="2" height="1" fill="#000"/>
<rect x="1613" y="707" width="1" height="1" fill="#000"/>
<rect x="1613" y="712" width="2" height="1" fill="#000"/>
<rect x="1613" y="804" width="2" height="1" fill="#000"/>
<text transform="translate(1616 655.6) scale(1 1.1)">0.00</text>
<text transform="translate(1615.5 704.7) scale(1 1.1)">-0.7385</text>
<text transform="translate(1616 720.6) scale(1 1.1)">100</text>
<text transform="translate(1615 733.7) scale(1 1.1)">80</text>
<text transform="translate(1615 762) scale(1 1.1)">50</text>
<text transform="translate(1615.5 794.5) scale(1 1.1)">15</text>
<text transform="translate(1615.5 801.5) scale(1 1.1)">0</text>
<rect x="5" y="806" width="1" height="3" fill="#000"/>
<text transform="translate(4.5 818) scale(1 1.1)">15 Jun 2023</text>
<rect x="69" y="806" width="1" height="3" fill="#000"/>
<text transform="translate(68.5 818) scale(1 1.1)">16 Jun 04:00</text>
<rect x="133" y="806" width="1" height="3" fill="#000"/>
<text transform="translate(132.5 818) scale(1 1.1)">16 Jun 20:00</text>
<rect x="197" y="806" width="1" height="3" fill="#000"/>
<text transform="translate(196.5 818) scale(1 1.1)">19 Jun 12:00</text>
<rect x="261" y="806" width="1" height="3" fill="#000"/>
<text transform="translate(260.5 818) scale(1 1.1)">20 Jun 08:00</text>
<rect x="325" y="806" width="1" height="3" fill="#000"/>
<text transform="translate(324.5 818) scale(1 1.1)">21 Jun 00:00</text>
<rect x="389" y="806" width="1" height="3" fill="#000"/>
<text transform="translate(388.5 818) scale(1 1.1)">21 Jun 16:00</text>
<rect x="453" y="806" width="1" height="3" fill="#000"/>
<text transform="translate(452.5 818) scale(1 1.1)">22 Jun 08:00</text>
<rect x="517" y="806" width="1" height="3" fill="#000"/>
<text transform="translate(516.5 818) scale(1 1.1)">23 Jun 00:00</text>
<rect x="581" y="806" width="1" height="3" fill="#000"/>
<text transform="translate(580.5 818) scale(1 1.1)">23 Jun 16:00</text>
<rect x="645" y="806" width="1" height="3" fill="#000"/>
<text transform="translate(644.5 818) scale(1 1.1)">26 Jun 08:00</text>
<rect x="709" y="806" width="1" height="3" fill="#000"/>
<text transform="translate(708.5 818) scale(1 1.1)">27 Jun 00:00</text>
<rect x="773" y="806" width="1" height="3" fill="#000"/>
<text transform="translate(772.5 818) scale(1 1.1)">27 Jun 16:00</text>
<rect x="837" y="806" width="1" height="3" fill="#000"/>
<text transform="translate(836.5 818) scale(1 1.1)">28 Jun 08:00</text>
<rect x="901" y="806" width="1" height="3" fill="#000"/>
<text transform="translate(900.5 818) scale(1 1.1)">29 Jun 04:00</text>
<rect x="965" y="806" width="1" height="3" fill="#000"/>
<text transform="translate(964.5 818) scale(1 1.1)">29 Jun 20:00</text>
<rect x="1029" y="806" width="1" height="3" fill="#000"/>
<text transform="translate(1028.5 818) scale(1 1.1)">30 Jun 12:00</text>
<rect x="1093" y="806" width="1" height="3" fill="#000"/>
<text transform="translate(1092.5 818) scale(1 1.1)">3 Jul 04:00</text>
<rect x="1157" y="806" width="1" height="3" fill="#000"/>
<text transform="translate(1156.5 818) scale(1 1.1)">3 Jul 20:00</text>
<rect x="1221" y="806" width="1" height="3" fill="#000"/>
<text transform="translate(1220.5 818) scale(1 1.1)">4 Jul 12:00</text>
<rect x="1285" y="806" width="1" height="3" fill="#000"/>
<text transform="translate(1284.5 818) scale(1 1.1)">5 Jul 08:00</text>
<text transform="translate(20.5 37.5) scale(1 1.1)" font-size="9.3">UKOil-,H4</text>
<text transform="translate(69.8 37.5) scale(1 1.1)" font-size="9.3">76.663 76.675 76.566 76.573</text>
<path d="M8 33h7l-3.5 4z" fill="#000"/>
<text transform="translate(9.2 618.6) scale(1 1.1)" font-size="9.35">MACD(12,26,9) 0.5232 0.4422</text>
<text transform="translate(9.3 722.7) scale(1 1.1)" font-size="9.3">RSI(14) 63.6420</text>
</svg>
</body></html>
